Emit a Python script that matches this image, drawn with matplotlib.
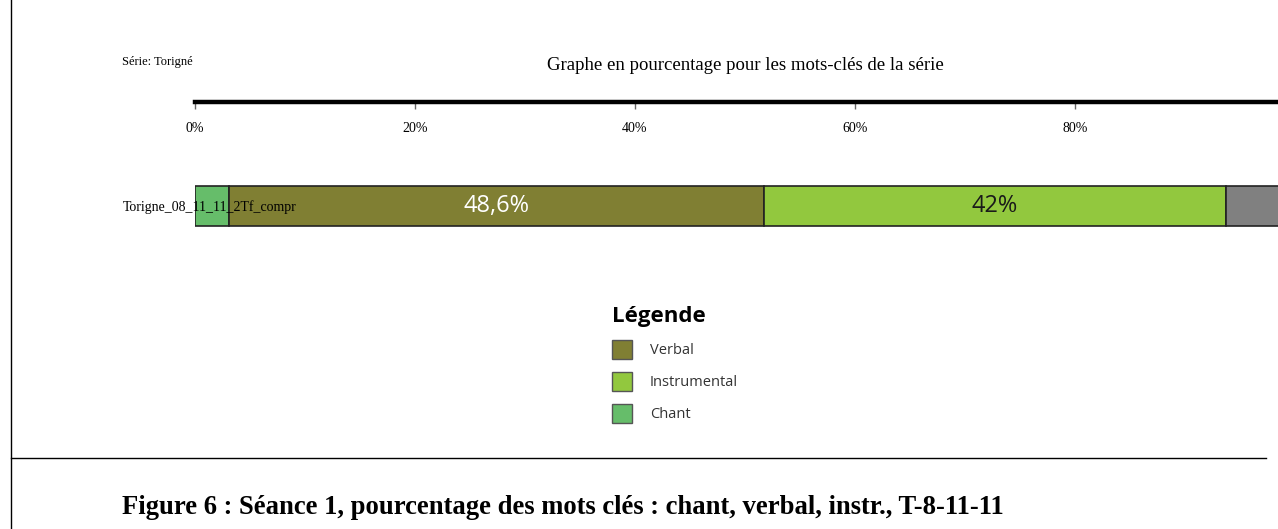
import matplotlib.pyplot as plt
from matplotlib.patches import Patch
from matplotlib.lines import Line2D

# Data
series_name = "Torigne_08_11_11_2Tf_compr"
categories = ["Chant", "Verbal", "Instrumental", "Autre"]
values = [3.1, 48.6, 42.0, 6.3]
labels = ["", "48,6%", "42%", ""]
colors = ["#66bd6a", "#807f33", "#92c83e", "#808080"]
label_colors = ["black", "white", "#1a1a1a", "black"]
legend_items = ["Verbal", "Instrumental", "Chant"]
xticks = [0, 20, 40, 60, 80, 100]
xticklabels = ["0%", "20%", "40%", "60%", "80%", "100%"]

W, H = 1278, 529
fig = plt.figure(figsize=(W / 100, H / 100), dpi=100)

# axes: 0% at x=195 px, 11 px per percent, cut by right border
x0, top, bottom = 195, 102, 240
ax = fig.add_axes([x0 / W, 1 - bottom / H, (W - x0) / W, (bottom - top) / H])

left = 0
for v, lab, c, lc in zip(values, labels, colors, label_colors):
    bars = ax.barh(0, v, left=left, height=1.0, color=c, edgecolor="#222222", linewidth=1.2)
    ax.bar_label(bars, labels=[lab], label_type="center", color=lc,
                 fontsize=17, family="Open Sans")
    left += v

for s in ["left", "right", "bottom"]:
    ax.spines[s].set_visible(False)
ax.spines["top"].set_linewidth(3.2)
ax.spines["top"].set_color("black")

ax.xaxis.tick_top()
ax.set_xticks(xticks, labels=xticklabels)
ax.tick_params(axis="x", direction="in", length=5, width=1, color="#666666",
               pad=-24, labelsize=10)
for t in ax.get_xticklabels():
    t.set_family("Liberation Serif")

ax.set_yticks([0], labels=[series_name])
ax.tick_params(axis="y", length=0, pad=52, labelsize=10)
for t in ax.get_yticklabels():
    t.set_family("Liberation Serif")
    t.set_horizontalalignment("left")

# limits after ticks so the 100% tick stays beyond the right border
ax.set_xlim(0, (W - x0) / 11)
ax.set_ylim(-0.85, 2.6)

# titles
fig.text(745 / W, 1 - 66 / H, "Graphe en pourcentage pour les mots-clés de la série",
         ha="center", va="center", fontsize=13.5, family="Liberation Serif")
fig.text(122 / W, 1 - 62 / H, "Série: Torigné", ha="left", va="center",
         fontsize=9, family="Liberation Serif")

# legend
handles = [Patch(facecolor=colors[categories.index(n)], edgecolor="#555555", linewidth=1)
           for n in legend_items]
leg = fig.legend(handles, legend_items, loc="upper left",
                 bbox_to_anchor=(602 / W, 1 - 296 / H), frameon=False,
                 title="Légende", alignment="left",
                 prop={"family": "Open Sans", "size": 10.5},
                 title_fontproperties={"family": "Open Sans", "weight": "bold", "size": 16},
                 handlelength=1.35, handleheight=1.6, labelspacing=0.9,
                 handletextpad=1.25, borderpad=0.2)
for t in leg.get_texts():
    t.set_color("#333333")

# page frame lines and caption
fig.add_artist(Line2D([11 / W, 11 / W], [0, 1], color="black", linewidth=1))
fig.add_artist(Line2D([11 / W, 1266 / W], [1 - 458 / H, 1 - 458 / H], color="black", linewidth=1))
fig.text(122 / W, 1 - 507 / H,
         "Figure 6 : Séance 1, pourcentage des mots clés : chant, verbal, instr., T-8-11-11",
         ha="left", va="center", fontsize=19.2, fontweight="bold", family="Liberation Serif")

fig.savefig("out.png", dpi=100)
